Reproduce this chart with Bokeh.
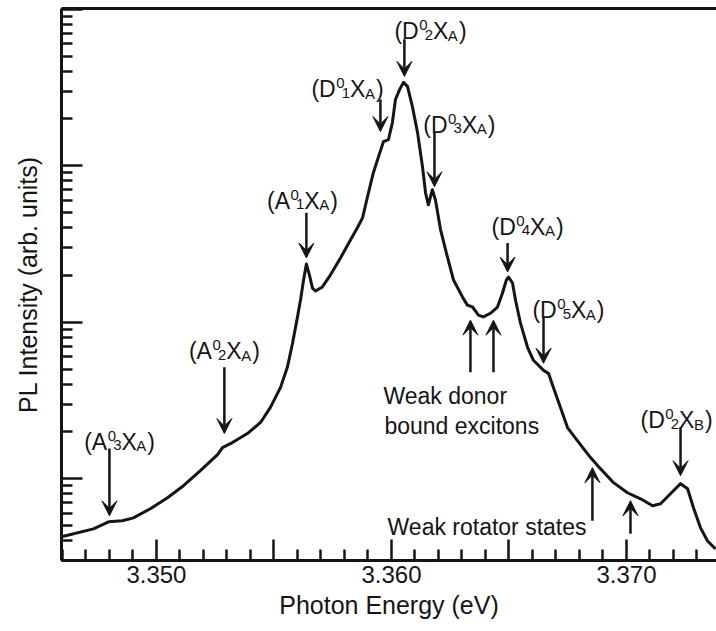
from bokeh.plotting import figure
from bokeh.models import (Range1d, LinearAxis, FixedTicker, CustomJSTickFormatter,
                          Arrow, VeeHead, ColumnDataSource)
from bokeh.core.properties import value
from bokeh.embed import file_html
from bokeh.resources import INLINE

# ---------------- data ----------------
energy = [3.34596, 3.34732, 3.34796, 3.34855, 3.34902, 3.34974, 3.35047, 3.35115,
          3.35187, 3.35260, 3.35281, 3.35323, 3.35387, 3.35443, 3.35485, 3.35528,
          3.35557, 3.35579, 3.35600, 3.35613, 3.35626, 3.35638, 3.35651, 3.35664,
          3.35677, 3.35706, 3.35740, 3.35783, 3.35826, 3.35855, 3.35877, 3.35898,
          3.35923, 3.35945, 3.35966, 3.35987, 3.36004, 3.36017, 3.36034, 3.36051,
          3.36068, 3.36089, 3.36111, 3.36132, 3.36145, 3.36157, 3.36174, 3.36187,
          3.36209, 3.36238, 3.36264, 3.36302, 3.36323, 3.36345, 3.36370, 3.36391,
          3.36421, 3.36451, 3.36472, 3.36489, 3.36498, 3.36515, 3.36528, 3.36549,
          3.36579, 3.36604, 3.36647, 3.36668, 3.36689, 3.36719, 3.36749, 3.36791,
          3.36847, 3.36889, 3.36945, 3.37004, 3.37060, 3.37111, 3.37145, 3.37187,
          3.37230, 3.37260, 3.37285, 3.37315, 3.37345, 3.37379]
intensity = [0.425, 0.478, 0.530, 0.538, 0.562, 0.642, 0.755, 0.902,
             1.125, 1.425, 1.580, 1.701, 1.943, 2.286, 2.852, 3.831,
             5.146, 7.336, 10.77, 13.84, 18.59, 23.5, 20.0, 16.5,
             15.8, 16.8, 20.0, 25.7, 33.6, 40.1, 46.4, 63.3,
             90.2, 114.2, 142.5, 146.8, 188.6, 264.9, 305.0, 340.5,
             320.9, 238.9, 162.7, 98.5, 67.1, 56.2, 70.2, 60.5,
             38.9, 26.1, 18.6, 14.5, 12.85, 12.5, 11.1, 10.8,
             11.4, 12.5, 15.3, 18.6, 19.4, 17.8, 13.8, 9.85,
             6.91, 5.71, 4.92, 4.71, 3.83, 2.85, 2.12, 1.75,
             1.363, 1.159, 0.943, 0.813, 0.744, 0.671, 0.691, 0.801,
             0.929, 0.863, 0.652, 0.485, 0.400, 0.356]

# peak labels: (X0 letter, sub index, exciton band)
peak_x = [3.34843, 3.35289, 3.35621, 3.35813, 3.36166, 3.36289, 3.36579, 3.36753, 3.37213]
peak_y = [1.943, 7.34, 67.1, 345.6, 813.4, 206.1, 45.75, 13.43, 2.65]
peak_letter = ["A", "A", "A", "D", "D", "D", "D", "D", "D"]
peak_index = ["3", "2", "1", "1", "2", "3", "4", "5", "2"]
peak_band = ["A", "A", "A", "A", "A", "A", "A", "A", "B"]

# arrows (base -> tip)
arrow_x = [3.34800, 3.35289, 3.35638, 3.35953, 3.36055, 3.36183, 3.36494, 3.36647,
           3.36336, 3.36434, 3.37230, 3.36855, 3.37017]
arrow_y0 = [1.557, 5.146, 49.96, 264.9, 642.4, 162.7, 32.09, 10.77,
            4.78, 4.78, 2.12, 0.538, 0.444]
arrow_y1 = [0.579, 1.943, 25.72, 165.2, 372.0, 73.4, 20.92, 5.46,
            10.30, 10.30, 1.045, 1.176, 0.723]

note_left_x = [3.35966, 3.35970]
note_left_y = [3.776, 2.424]
note_left_text = ["Weak donor", "bound excitons"]
note_right_x = [3.36830]
note_right_y = [0.554]
note_right_text = ["Weak rotator states"]

x_major_ticks = [3.350, 3.355, 3.360, 3.365, 3.370]
x_tick_labels = ["3.350", "", "3.360", "", "3.370"]
x_minor_ticks = [3.346, 3.347, 3.348, 3.349, 3.351, 3.352, 3.353, 3.354, 3.356, 3.357,
                 3.358, 3.359, 3.361, 3.362, 3.363, 3.364, 3.366, 3.367, 3.368, 3.369,
                 3.371, 3.372, 3.373]
y_major_ticks = [1, 10, 100, 1000]
y_minor_ticks = [0.3, 0.4, 0.5, 0.6, 0.7, 0.8, 0.9,
                 2, 3, 4, 5, 6, 7, 8, 9,
                 20, 30, 40, 50, 60, 70, 80, 90,
                 200, 300, 400, 500, 600, 700, 800, 900]

# ---------------- figure ----------------
FONT = "Liberation Sans"
INK = "#151515"

p = figure(width=716, height=631, y_axis_type="log",
           x_range=Range1d(3.34596, 3.37383), y_range=Range1d(0.3, 1010),
           output_backend="svg", toolbar_location=None,
           min_border_left=61, min_border_right=0, min_border_top=8, min_border_bottom=71)
p.grid.visible = False
p.outline_line_color = None

xa = p.xaxis[0]
xa.ticker = FixedTicker(ticks=x_major_ticks, minor_ticks=x_minor_ticks)
xa.major_label_overrides = {t: l for t, l in zip(x_major_ticks, x_tick_labels)}
ya = p.yaxis[0]
ya.ticker = FixedTicker(ticks=y_major_ticks, minor_ticks=y_minor_ticks)
ya.formatter = CustomJSTickFormatter(code="return ''")

for ax in (xa, ya):
    ax.axis_line_width = 3
    ax.axis_line_color = INK
    ax.major_tick_in = 21
    ax.major_tick_out = 0
    ax.minor_tick_in = 11
    ax.minor_tick_out = 0
    ax.major_tick_line_width = 2.5
    ax.minor_tick_line_width = 2.5
    ax.major_tick_line_color = INK
    ax.minor_tick_line_color = INK
    ax.major_label_text_font = FONT
    ax.major_label_text_font_size = "24px"
    ax.major_label_text_color = INK
    ax.major_label_text_line_height = 1.0
    ax.axis_label_text_font = FONT
    ax.axis_label_text_font_size = "25px"
    ax.axis_label_text_font_style = "normal"
    ax.axis_label_text_color = INK
    ax.axis_label_text_line_height = 1.0

xa.axis_label = "Photon Energy (eV)"
xa.major_label_standoff = 5
xa.axis_label_standoff = 5
ya.axis_label = "PL Intensity (arb. units)"
ya.major_label_standoff = 0
ya.axis_label_standoff = 20

top = LinearAxis(ticker=FixedTicker(ticks=[]), axis_line_width=3, axis_line_color=INK,
                 major_tick_in=0, major_tick_out=0, minor_tick_in=0, minor_tick_out=0,
                 major_label_standoff=0, major_label_text_font_size="0px")
p.add_layout(top, "above")

# curve
p.line(energy, intensity, line_width=3, line_color=INK, line_join="round")

# arrows
asrc = ColumnDataSource(dict(x=arrow_x, y0=arrow_y0, y1=arrow_y1))
p.add_layout(Arrow(x_start="x", y_start="y0", x_end="x", y_end="y1", source=asrc,
                   line_width=2.5, line_color=INK,
                   end=VeeHead(size=15, fill_color=INK, line_color=INK, line_width=1)))

# composite peak labels  (X^0_n X_band)
FM, FS = 23, 15
W = {"(": 0.333, ")": 0.333, "A": 0.667, "B": 0.667, "D": 0.722, "X": 0.667}

def wid(ch, fs):
    return W.get(ch, 0.556) * fs

main = dict(x=[], y=[], t=[], xo=[], yo=[])
small = dict(x=[], y=[], t=[], xo=[], yo=[])
for lx, ly, let, num, band in zip(peak_x, peak_y, peak_letter, peak_index, peak_band):
    segs = []
    cx = 0.0
    segs.append(("(", cx, 0, False)); cx += wid("(", FM)
    segs.append((let, cx, 0, False)); cx += wid(let, FM)
    sup_x = cx + 0.5
    segs.append(("0", sup_x, -6, True))
    sub_x = sup_x + 5.5
    segs.append((num, sub_x, 3.5, True)); cx = sub_x + wid(num, FS)
    segs.append(("X", cx, 0, False)); cx += wid("X", FM)
    segs.append((band, cx - 0.5, 4, True)); cx += wid(band, FS)
    segs.append((")", cx + 0.5, 0, False)); cx += wid(")", FM) + 0.5
    total = cx
    for t, dx, dy, sm in segs:
        d = small if sm else main
        d["x"].append(lx); d["y"].append(ly); d["t"].append(t)
        d["xo"].append(dx - total / 2); d["yo"].append(dy + 8)

p.text(x="x", y="y", text="t", x_offset="xo", y_offset="yo", source=ColumnDataSource(main),
       text_font=value(FONT), text_font_size=f"{FM}px", text_color=INK,
       text_baseline="alphabetic", text_align="left")
p.text(x="x", y="y", text="t", x_offset="xo", y_offset="yo", source=ColumnDataSource(small),
       text_font=value(FONT), text_font_size=f"{FS}px", text_color=INK,
       text_baseline="alphabetic", text_align="left")

# plain annotations
p.text(x=note_left_x, y=note_left_y, text=note_left_text, y_offset=8,
       text_font=value(FONT), text_font_size="23px", text_color=INK,
       text_baseline="alphabetic", text_align="left")
p.text(x=note_right_x, y=note_right_y, text=note_right_text, y_offset=8,
       text_font=value(FONT), text_font_size="23px", text_color=INK,
       text_baseline="alphabetic", text_align="right")

open("out.html", "w").write(file_html(p, INLINE))
